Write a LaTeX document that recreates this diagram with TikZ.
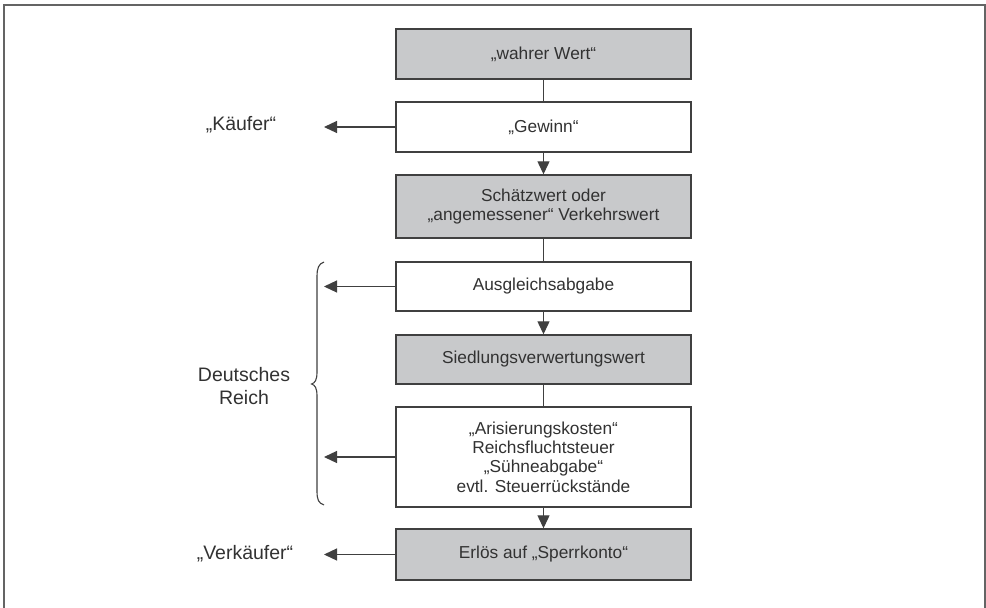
\documentclass[tikz,border=0pt]{standalone}
\usepackage{fontspec}
\setmainfont{Liberation Sans}
\usetikzlibrary{arrows.meta}
\definecolor{boxgray}{RGB}{200,201,203}
\definecolor{linecol}{RGB}{64,64,64}
\definecolor{framecol}{RGB}{100,100,100}
\definecolor{txtcol}{RGB}{50,50,50}
\tikzset{
  flowbox/.style={draw=linecol, line width=1.4pt, minimum width=295pt, inner sep=0pt,
    align=center, text=txtcol, font=\fontsize{17.3}{19.4}\selectfont},
  graybox/.style={flowbox, fill=boxgray},
  whitebox/.style={flowbox, fill=white},
  conn/.style={draw=linecol, line width=1.2pt},
  arr/.style={conn, -{Triangle[length=13pt,width=12pt]}, color=linecol},
  sidelabel/.style={text=txtcol, font=\fontsize{19.5}{23.3}\selectfont, align=center, inner sep=0pt}
}
\begin{document}
\begin{tikzpicture}[x=1pt,y=-1pt]
\useasboundingbox (0,0) rectangle (986,608);
\fill[white] (0,0) rectangle (986,608);
% frame
\draw[framecol, line width=2pt] (3.5,608) -- (3.5,4.5) -- (985,4.5) -- (985,608);
% boxes
\node[graybox,  minimum height=50pt]  (b1) at (543.5,54)    {„wahrer Wert“};
\node[whitebox, minimum height=50pt]  (b2) at (543.5,127)   {„Gewinn“};
\node[graybox,  minimum height=63pt]  (b3) at (543.5,206.5) {Schätzwert oder\\„angemessener“ Verkehrswert};
\node[whitebox, minimum height=49pt]  (b4) at (543.5,286.5) {Ausgleichsabgabe};
\node[graybox,  minimum height=49pt]  (b5) at (543.5,359.5) {Siedlungsverwertungswert};
\node[whitebox, minimum height=100pt] (b6) at (543.5,457)   {„Arisierungskosten“\\Reichsfluchtsteuer\\„Sühneabgabe“\\evtl. Steuerrückstände};
\node[graybox,  minimum height=51pt]  (b7) at (543.5,554.5) {Erlös auf „Sperrkonto“};
% vertical connectors
\draw[conn] (b1.south) -- (b2.north);
\draw[arr]  (b2.south) -- (b3.north);
\draw[conn] (b3.south) -- (b4.north);
\draw[arr]  (b4.south) -- (b5.north);
\draw[conn] (b5.south) -- (b6.north);
\draw[arr]  (b6.south) -- (b7.north);
% side labels
\node[sidelabel] (kaeufer) at (241,125) {„Käufer“};
\node[sidelabel] (reich) at (244,386) {Deutsches\\Reich};
\node[sidelabel] (verkaeufer) at (245,554) {„Verkäufer“};
% arrow end points
\coordinate (e2) at (324,127);
\coordinate (e4) at (324,286.5);
\coordinate (e6) at (324,457);
\coordinate (e7) at (324,554.5);
\draw[arr] (b2.west) -- (e2);
\draw[arr] (b4.west) -- (e4);
\draw[arr] (b6.west) -- (e6);
\draw[arr] (b7.west) -- (e7);
% brace
\draw[linecol, line width=1.1pt]
  (324,262) .. controls (318.5,264) and (317,268) .. (317,277)
  -- (317,372) .. controls (317,380) and (315,383) .. (311.5,384)
  .. controls (315,385) and (317,388) .. (317,396)
  -- (317,491) .. controls (317,500) and (318.5,503) .. (324,505);
\end{tikzpicture}
\end{document}
